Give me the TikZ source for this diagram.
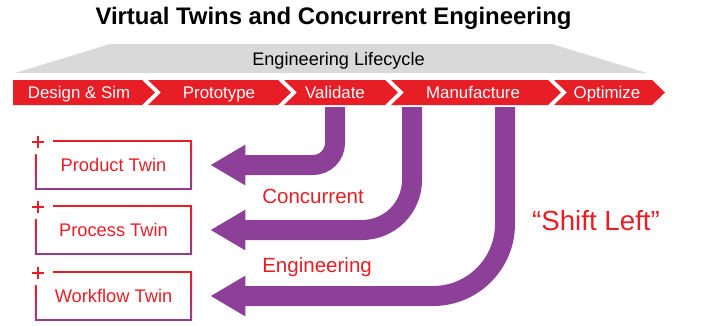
\documentclass[tikz,border=0pt]{standalone}
\usepackage{fontspec}
\setmainfont{Liberation Sans}
\usepackage{xcolor}
\usepackage{tikz}
\usetikzlibrary{arrows.meta,positioning}

\definecolor{lcred}{RGB}{232,30,38}
\definecolor{lcpurple}{RGB}{140,64,152}
\definecolor{lcgray}{RGB}{217,217,217}

\begin{document}
\begin{tikzpicture}[
  x=0.025cm, y=-0.025cm,
  stage/.style={text=white, font=\fontsize{12}{14}\selectfont,
                text height=8.6pt, text depth=0pt, inner sep=0pt},
  twin/.style={text=lcred, font=\fontsize{13}{15}\selectfont,
               text height=9.3pt, text depth=0pt,
               minimum width=3.875cm, minimum height=1.2cm},
  lbl/.style={text=lcred, font=\fontsize{14.6}{17}\selectfont, inner sep=0pt},
  twinline/.style={line width=1.2pt},
  arr/.style={draw=lcpurple, line width=0.5cm,
              -{Triangle[width=0.95cm, length=0.875cm]}}]

  \useasboundingbox (0,0) rectangle (720,325);

  % title and lifecycle banner
  \node[anchor=base, font=\fontsize{17}{20}\selectfont\bfseries] (title)
       at (333.5,24) {Virtual Twins and Concurrent Engineering};
  \fill[lcgray] (110,44) -- (552,44) -- (647,73) -- (15,73) -- cycle;
  \node[anchor=base, font=\fontsize{12.9}{15}\selectfont] (cycle)
       at (338.5,65) {Engineering Lifecycle};

  % chevrons
  \foreach \l/\d/\r in {13/0/142, 148/13/278, 284/13/385, 391/13/548, 554/13/652}
    \fill[lcred] (\l,80) -- (\r,80) -- (\r+13,92.5) -- (\r,105) -- (\l,105)
      -- (\l+\d,92.5) -- cycle;

  \node[stage] (dsim)  at (79,92.5)  {Design \& Sim};
  \node[stage] (proto) at (219,92.5) {Prototype};
  \node[stage] (valid) at (335,92.5) {Validate};
  \node[stage] (manuf) at (473,92.5) {Manufacture};
  \node[stage] (optim) at (607,92.5) {Optimize};

  % twins
  \node[twin] (prod)  at (113.5,165) {Product Twin};
  \node[twin] (proc)  at (113.5,230) {Process Twin};
  \node[twin] (wflow) at (113.5,296) {Workflow Twin};

  \foreach \n in {prod,proc,wflow} {
    \draw[lcred, twinline] ([xshift=0.425cm]\n.north west) -- (\n.north east);
    \shade[top color=lcred, bottom color=lcpurple]
      ([xshift=-0.6pt]\n.north east) rectangle ([xshift=0.6pt]\n.south east);
    \shade[top color=lcred, bottom color=lcpurple]
      ([xshift=-0.6pt, yshift=-0.35cm]\n.north west)
      rectangle ([xshift=0.6pt]\n.south west);
    \draw[lcpurple!85!lcred, twinline] ([xshift=-0.6pt]\n.south west)
      -- ([xshift=0.6pt]\n.south east);
    \draw[lcred, line width=1.4pt]
      ([xshift=-0.1cm, yshift=-0.025cm]\n.north west) -- ++(0.3cm,0)
      ([xshift=0.05cm, yshift=0.125cm]\n.north west) -- ++(0,-0.3cm);
  }

  % shift left arrows
  \coordinate (s1) at (335,107);
  \coordinate (s2) at (412,107);
  \coordinate (s3) at (505,107);

  \draw[arr, rounded corners=0.55cm] (s1) |- ([xshift=0.475cm]prod.east);
  \draw[arr, rounded corners=1.25cm] (s2) |- ([xshift=0.475cm]proc.east);
  \draw[arr, rounded corners=1.8cm]  (s3) |- ([xshift=0.475cm]wflow.east);

  \node[lbl, anchor=base west] (conc) at (262,203) {Concurrent};
  \node[lbl, anchor=base west] (eng)  at (262,272) {Engineering};
  \node[lbl, anchor=base, font=\fontsize{19.7}{23}\selectfont] (shift)
       at (596,230) {“Shift Left”};
\end{tikzpicture}
\end{document}
